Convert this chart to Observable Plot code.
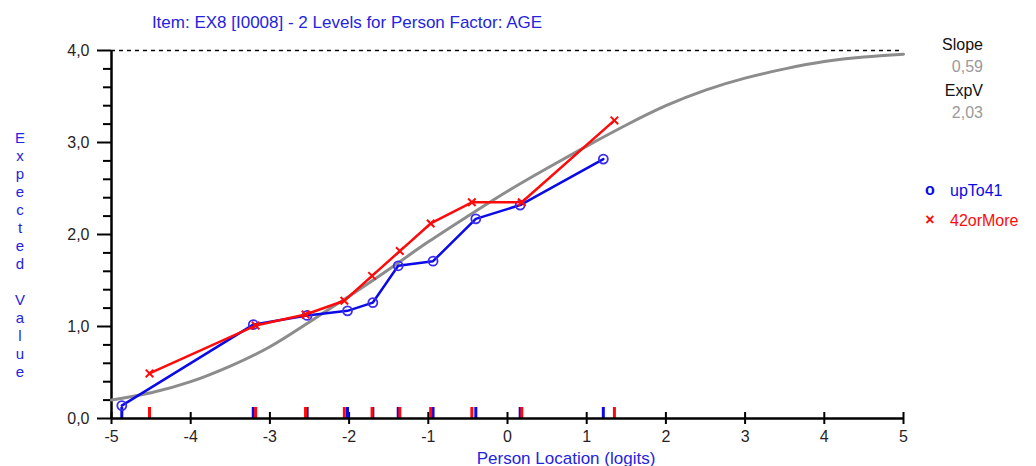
<!DOCTYPE html>
<html>
<head>
<meta charset="utf-8">
<script src="https://cdn.jsdelivr.net/npm/d3@7"></script>
<script src="https://cdn.jsdelivr.net/npm/@observablehq/plot@0.6"></script>
<style>
  html, body { margin: 0; padding: 0; background: #fff; overflow: hidden; }
  #chart svg { display: block; }
</style>
</head>
<body>
<div id="chart"></div>
<script>
// ---- data ----
const titleText = "Item: EX8 [I0008] - 2 Levels for Person Factor: AGE";
const xLabel = "Person Location (logits)";
const yLabel = "Expected Value";
const seriesNames = ["upTo41", "42orMore"];

const blueX = [-4.87, -3.21, -2.53, -2.02, -1.70, -1.38, -0.94, -0.40, 0.16, 1.21];
const blueY = [0.14, 1.02, 1.12, 1.17, 1.26, 1.66, 1.71, 2.17, 2.32, 2.82];

const redX = [-4.52, -3.18, -2.55, -2.06, -1.71, -1.36, -0.97, -0.45, 0.18, 1.35];
const redY = [0.49, 1.01, 1.13, 1.28, 1.55, 1.82, 2.12, 2.35, 2.35, 3.24];

const curveX = [-5, -4.5, -4, -3.5, -3, -2.5, -2, -1.5, -1, -0.5, 0, 0.5, 1, 1.5, 2, 2.5, 3, 3.5, 4, 4.5, 5];
const curveY = [0.20, 0.28, 0.40, 0.57, 0.78, 1.05, 1.33, 1.62, 1.92, 2.20, 2.47, 2.72, 2.96, 3.19, 3.40, 3.57, 3.70, 3.80, 3.88, 3.93, 3.96];

const xTicks = [-5, -4, -3, -2, -1, 0, 1, 2, 3, 4, 5];
const yTicks = [0, 1, 2, 3, 4];
const yMinorTicks = [0.2, 0.4, 0.6, 0.8, 1.2, 1.4, 1.6, 1.8, 2.2, 2.4, 2.6, 2.8, 3.2, 3.4, 3.6, 3.8];
const yMax = 4;

const statLabels = ["Slope", "ExpV"];
const statValues = ["0,59", "2,03"];

// ---- tables ----
const blue = blueX.map((x, i) => ({x, y: blueY[i]}));
const red = redX.map((x, i) => ({x, y: redY[i]}));
const curve = curveX.map((x, i) => ({x, y: curveY[i]}));

const BLUE = "#0a0ae6";
const RED = "#ff0a0a";
const TXT_BLUE = "#2424e0";
const TXT_DARK = "#2a1f24";
const FONT = "Liberation Sans, Arial, sans-serif";

const svg = Plot.plot({
  width: 1036,
  height: 466,
  marginLeft: 111,
  marginRight: 133,
  marginTop: 50,
  marginBottom: 48,
  style: {fontFamily: FONT, fontSize: "16px", background: "#fff", color: "#222", overflow: "visible"},
  x: {domain: [-5, 5]},
  y: {domain: [0, 4]},
  marks: [
    // dashed max line
    Plot.ruleY([yMax], {stroke: "#000", strokeWidth: 1.5, strokeDasharray: "4,4"}),
    // y axis
    Plot.axisY({ticks: yMinorTicks, tickSize: 8, tickFormat: () => "", label: null, strokeWidth: 2, stroke: "#000"}),
    Plot.axisY({ticks: yTicks, tickSize: 14, tickPadding: 8, label: null, strokeWidth: 2, stroke: "#000",
      tickFormat: d => d.toFixed(1).replace(".", ","), fill: TXT_DARK, fontSize: 16}),
    // x axis ticks (crossing) and labels
    Plot.axisX({ticks: xTicks, tickSize: 12, dy: -6, tickFormat: () => "", label: null, strokeWidth: 2, stroke: "#000"}),
    Plot.axisX({ticks: xTicks, tickSize: 0, tickPadding: 12, label: null, fill: TXT_DARK, fontSize: 16,
      tickFormat: d => String(d)}),
    // class interval ticks
    Plot.ruleX(blue, {x: "x", y1: 0, y2: 0, insetBottom: 11, stroke: BLUE, strokeWidth: 3}),
    Plot.ruleX(red, {x: "x", y1: 0, y2: 0, insetBottom: 11, stroke: RED, strokeWidth: 3}),
    // axis lines
    Plot.ruleY([0], {stroke: "#000", strokeWidth: 2.5}),
    Plot.ruleX([-5], {y1: 0, y2: yMax, stroke: "#000", strokeWidth: 2.5}),
    // expected value curve
    Plot.line(curve, {x: "x", y: "y", stroke: "#8c8c8c", strokeWidth: 3, curve: "natural"}),
    // observed means
    Plot.line(blue, {x: "x", y: "y", stroke: BLUE, strokeWidth: 2.5}),
    Plot.dot(blue, {x: "x", y: "y", r: 4.5, stroke: "#3a2cf0", strokeWidth: 1.8, fill: "none"}),
    Plot.line(red, {x: "x", y: "y", stroke: RED, strokeWidth: 2.5}),
    Plot.dot(red, {x: "x", y: "y", symbol: "times", r: 3.5, stroke: RED, strokeWidth: 2})
  ]
});

const g = d3.select(svg).append("g").attr("font-family", FONT).attr("font-size", 16)
  .attr("text-anchor", "start");

// title
g.append("text").attr("x", 347).attr("y", 28).attr("text-anchor", "middle")
  .attr("font-size", 17).attr("fill", TXT_BLUE).text(titleText);

// x label
g.append("text").attr("x", 566).attr("y", 464).attr("text-anchor", "middle")
  .attr("font-size", 17).attr("fill", TXT_BLUE).text(xLabel);

// y label, stacked letters
yLabel.split("").forEach((ch, i) => {
  g.append("text").attr("x", 20).attr("y", 143 + i * 18).attr("text-anchor", "middle")
    .attr("font-size", 15).attr("fill", TXT_BLUE).text(ch);
});

// stats
statLabels.forEach((s, i) => {
  g.append("text").attr("x", 983).attr("y", 50 + i * 46).attr("text-anchor", "end")
    .attr("fill", "#111").text(s);
  g.append("text").attr("x", 983).attr("y", 72 + i * 45.5).attr("text-anchor", "end")
    .attr("fill", "#9a9a9a").text(statValues[i]);
});

// legend
const legendSym = ["o", "\u00d7"];
const legendCol = [BLUE, RED];
seriesNames.forEach((s, i) => {
  g.append("text").attr("x", 930).attr("y", 195 + i * 30).attr("text-anchor", "middle")
    .attr("fill", legendCol[i]).attr("font-weight", "bold").text(legendSym[i]);
  g.append("text").attr("x", 950).attr("y", 196 + i * 30).attr("text-anchor", "start")
    .attr("fill", legendCol[i]).text(s);
});

document.getElementById("chart").appendChild(svg);
</script>
</body>
</html>
